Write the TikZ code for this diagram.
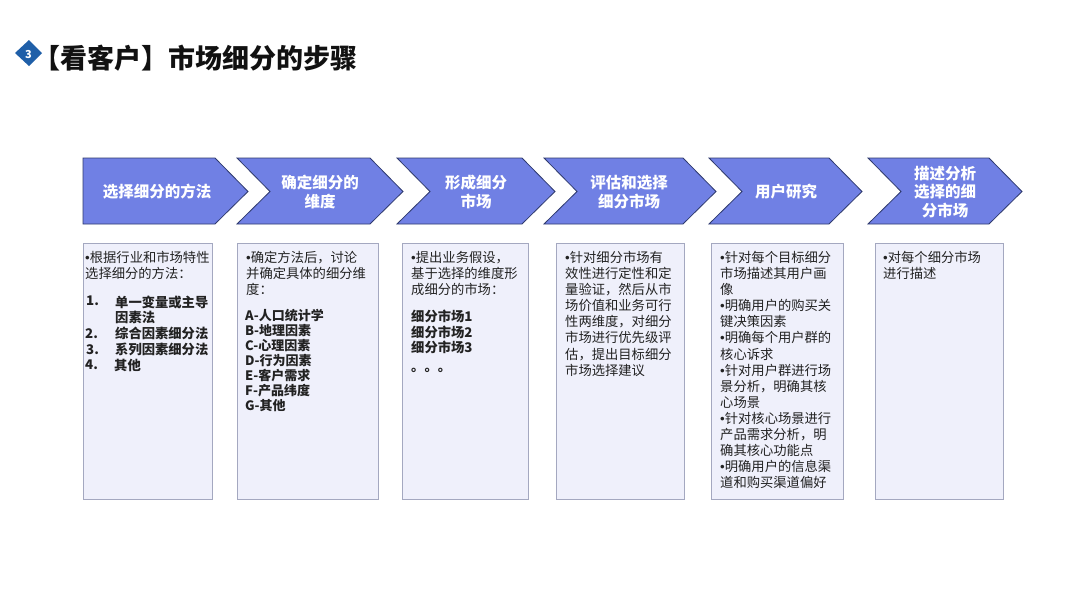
\documentclass[tikz,border=0pt]{standalone}
\usepackage{fontspec}
\setmainfont{Noto Sans CJK SC}
\newfontfamily\bulfont{Liberation Sans}
\newcommand{\bul}{{\bulfont •}}
\definecolor{chevfill}{HTML}{7080E4}
\definecolor{chevline}{HTML}{2F3A6E}
\definecolor{boxfill}{HTML}{EFF0FB}
\definecolor{boxline}{HTML}{A4A8C0}
\definecolor{titlecol}{HTML}{111111}
\definecolor{textcol}{HTML}{222222}
\definecolor{badge}{HTML}{1F5FA8}
\tikzset{
  x=1pt,y=-1pt,
  chev/.style={fill=chevfill,draw=chevline,line width=0.8pt,line join=miter},
  chevtext/.style={font=\fontsize{15.5}{18.3}\selectfont\bfseries,text=white,align=center,inner sep=0pt},
  panel/.style={fill=boxfill,draw=boxline,line width=1pt},
  paneltext/.style={font=\fontsize{13.3}{16.1}\selectfont,text=textcol,anchor=north west,align=left,inner sep=0pt},
  strong/.style={font=\fontsize{13.3}{15.5}\selectfont\bfseries,text=textcol,anchor=north west,align=left,inner sep=0pt},
  dims/.style={font=\fontsize{13}{15}\selectfont\bfseries,text=textcol,anchor=north west,align=left,inner sep=0pt},
  numlabel/.style={font=\fontsize{13.3}{15}\selectfont\bfseries,text=textcol,anchor=north west,inner sep=0pt}
}
\begin{document}
\begin{tikzpicture}
\useasboundingbox (0,0) rectangle (1080,608);
\fill[white] (0,0) rectangle (1080,608);
% title
\fill[badge] (15,53) -- (29,40) -- (42,53) -- (29,66) -- cycle;
\node[font=\fontsize{11}{11}\selectfont\bfseries,text=white,inner sep=0pt] (badgenum) at (28.5,55) {3};
\node[font=\fontsize{27}{28}\selectfont\bfseries,text=titlecol,anchor=west,inner sep=0pt] (title) at (33,58) {【看客户】市场细分的步骤};
% chevrons
\draw[chev] (83,158) -- (215,158) -- (248,191.5) -- (215,224) -- (83,224) -- cycle;
\draw[chev] (237,158) -- (370,158) -- (403,191.5) -- (370,224) -- (237,224) -- (270,191.5) -- cycle;
\draw[chev] (397,158) -- (522,158) -- (555,191.5) -- (522,224) -- (397,224) -- (430,191.5) -- cycle;
\draw[chev] (544,158) -- (683,158) -- (716,191.5) -- (683,224) -- (544,224) -- (577,191.5) -- cycle;
\draw[chev] (709,158) -- (829,158) -- (862,191.5) -- (829,224) -- (709,224) -- (742,191.5) -- cycle;
\draw[chev] (868,158) -- (989,158) -- (1022,191.5) -- (989,224) -- (868,224) -- (901,191.5) -- cycle;
\node[chevtext] (c1) at (157,192) {选择细分的方法};
\node[chevtext] (c2) at (320,192) {确定细分的\\维度};
\node[chevtext] (c3) at (476,192) {形成细分\\市场};
\node[chevtext] (c4) at (629,192) {评估和选择\\细分市场};
\node[chevtext] (c5) at (786,192) {用户研究};
\node[chevtext] (c6) at (945,192) {描述分析\\选择的细\\分市场};
% panels
\draw[panel] (83,243) rectangle (212.5,499);
\draw[panel] (237,243) rectangle (378,499);
\draw[panel] (402,243) rectangle (528,499);
\draw[panel] (556,243) rectangle (684,499);
\draw[panel] (711,243) rectangle (843,499);
\draw[panel] (875,243) rectangle (1003,499);
% panel 1
\node[paneltext] (p1) at (85,251) {\bul 根据行业和市场特性\\选择细分的方法：};
\node[numlabel] (n1) at (86,296) {1.};
\node[numlabel] (n2) at (85,328) {2.};
\node[numlabel] (n3) at (86,344) {3.};
\node[numlabel] (n4) at (85,360) {4.};
\node[strong] (l1) at (115,295.5) {单一变量或主导\\因素法};
\node[strong] (l2) at (115,327) {综合因素细分法};
\node[strong] (l3) at (115,343) {系列因素细分法};
\node[strong] (l4) at (114,359) {其他};
% panel 2
\node[paneltext] (p2) at (246,251) {\bul 确定方法后，讨论\\并确定具体的细分维\\度：};
\node[dims] (d) at (245,309) {A-人口统计学\\B-地理因素\\C-心理因素\\D-行为因素\\E-客户需求\\F-产品纬度\\G-其他};
% panel 3
\node[paneltext] (p3) at (411,251) {\bul 提出业务假设，\\基于选择的维度形\\成细分的市场：};
\node[strong] (m) at (411,310) {细分市场1\\细分市场2\\细分市场3};
\node[strong] (dots) at (411,368) {。。。};
% panel 4
\node[paneltext] (p4) at (565,251) {\bul 针对细分市场有\\效性进行定性和定\\量验证，然后从市\\场价值和业务可行\\性两维度，对细分\\市场进行优先级评\\估，提出目标细分\\市场选择建议};
% panel 5
\node[paneltext] (p5) at (720,251) {\bul 针对每个目标细分\\市场描述其用户画\\像\\\bul 明确用户的购买关\\键决策因素\\\bul 明确每个用户群的\\核心诉求\\\bul 针对用户群进行场\\景分析，明确其核\\心场景\\\bul 针对核心场景进行\\产品需求分析，明\\确其核心功能点\\\bul 明确用户的信息渠\\道和购买渠道偏好};
% panel 6
\node[paneltext] (p6) at (883,251) {\bul 对每个细分市场\\进行描述};
\end{tikzpicture}
\end{document}
